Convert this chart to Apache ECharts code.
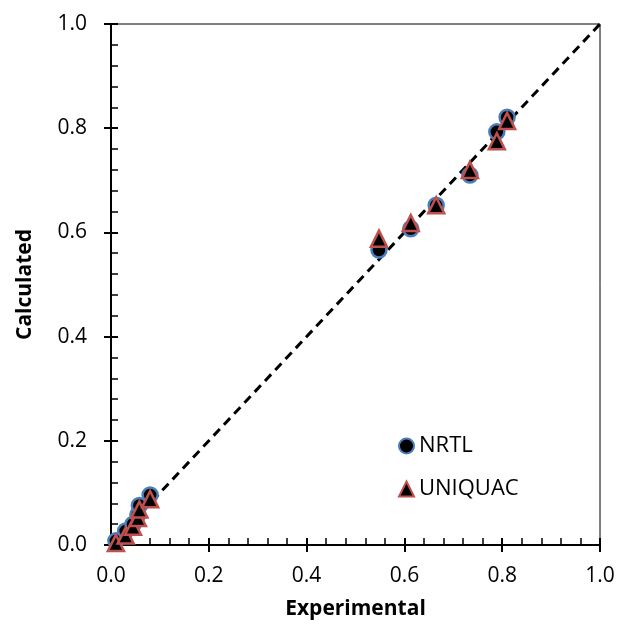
<!DOCTYPE html>
<html>
<head>
<meta charset="utf-8">
<script src="https://cdn.jsdelivr.net/npm/echarts@6/dist/echarts.min.js"></script>
<style>
html,body{margin:0;padding:0;background:#fff;}
#chart{width:621px;height:637px;}
</style>
</head>
<body>
<div id="chart"></div>
<script>
// Experimental values (x) and calculated values (y)
var nrtlExp  = [0.010, 0.030, 0.045, 0.055, 0.058, 0.080, 0.548, 0.613, 0.665, 0.734, 0.789, 0.810];
var nrtlCalc = [0.008, 0.027, 0.040, 0.058, 0.076, 0.096, 0.566, 0.607, 0.652, 0.710, 0.793, 0.821];
var uniqExp  = [0.010, 0.030, 0.045, 0.055, 0.058, 0.080, 0.548, 0.613, 0.665, 0.734, 0.789, 0.810];
var uniqCalc = [0.004, 0.018, 0.035, 0.052, 0.068, 0.088, 0.588, 0.618, 0.652, 0.720, 0.775, 0.814];
var diagLine = [[0, 0], [1, 1]];
var axisTicks = [0, 0.2, 0.4, 0.6, 0.8, 1.0];

function pairs(xs, ys) { return xs.map(function (x, i) { return [x, ys[i]]; }); }

var FONT = '"Open Sans", "Liberation Sans", sans-serif';

var baseAxis = {
  type: 'value', min: 0, max: 1, interval: 0.2,
  axisLine: { show: true, lineStyle: { color: '#000', width: 2 } },
  splitLine: { show: false }
};

var chart = echarts.init(document.getElementById('chart'));
chart.setOption({
  backgroundColor: '#fff',
  animation: false,
  grid: {
    left: 111, right: 21, top: 24, bottom: 92,
    show: true, borderColor: '#000', borderWidth: 1
  },
  legend: {
    orient: 'vertical',
    left: 393, top: 430,
    itemWidth: 15, itemHeight: 15, itemGap: 21,
    textStyle: { fontFamily: FONT, fontSize: 22, color: '#000' },
    data: ['NRTL', 'UNIQUAC']
  },
  xAxis: [
    Object.assign({}, baseAxis, {
      position: 'bottom',
      name: 'Experimental', nameLocation: 'middle', nameGap: 54,
      nameTextStyle: { fontFamily: FONT, fontSize: 21, fontWeight: 'bold', color: '#000' },
      axisTick: { show: true, inside: false, length: 7, lineStyle: { color: '#000', width: 2 } },
      axisLabel: { fontFamily: FONT, fontSize: 21, color: '#000', margin: 21,
        formatter: function (v) { return v.toFixed(1); } }
    }),
    Object.assign({}, baseAxis, {
      position: 'bottom',
      axisTick: { show: true, inside: true, length: 7, lineStyle: { color: '#000', width: 2 } },
      minorTick: { show: true, splitNumber: 5, length: 7, lineStyle: { color: '#000', width: 1.5 } },
      axisLabel: { show: false }
    })
  ],
  yAxis: [
    Object.assign({}, baseAxis, {
      position: 'left',
      name: 'Calculated', nameLocation: 'middle', nameGap: 75,
      nameTextStyle: { fontFamily: FONT, fontSize: 21, fontWeight: 'bold', color: '#000' },
      axisTick: { show: true, inside: false, length: 7, lineStyle: { color: '#000', width: 2 } },
      axisLabel: { fontFamily: FONT, fontSize: 21, color: '#000', margin: 24,
        formatter: function (v) { return v.toFixed(1); } }
    }),
    Object.assign({}, baseAxis, {
      position: 'left',
      axisTick: { show: true, inside: true, length: 7, lineStyle: { color: '#000', width: 2 } },
      minorTick: { show: true, splitNumber: 5, length: 7, lineStyle: { color: '#000', width: 1.5 } },
      axisLabel: { show: false }
    })
  ],
  series: [
    {
      type: 'line', data: diagLine, xAxisIndex: 0, yAxisIndex: 0,
      symbol: 'none', silent: true,
      lineStyle: { color: '#000', width: 3, type: [9, 6] },
      z: 1
    },
    {
      name: 'NRTL', type: 'scatter', data: pairs(nrtlExp, nrtlCalc),
      xAxisIndex: 0, yAxisIndex: 0,
      symbol: 'circle', symbolSize: 15,
      itemStyle: { color: '#000', borderColor: '#4a7ebb', borderWidth: 2.5, opacity: 1 },
      z: 3
    },
    {
      name: 'UNIQUAC', type: 'scatter', data: pairs(uniqExp, uniqCalc),
      xAxisIndex: 0, yAxisIndex: 0,
      symbol: 'triangle', symbolSize: 16,
      itemStyle: { color: '#000', borderColor: '#c0504d', borderWidth: 2.5, opacity: 1 },
      z: 4
    }
  ]
});
</script>
</body>
</html>
